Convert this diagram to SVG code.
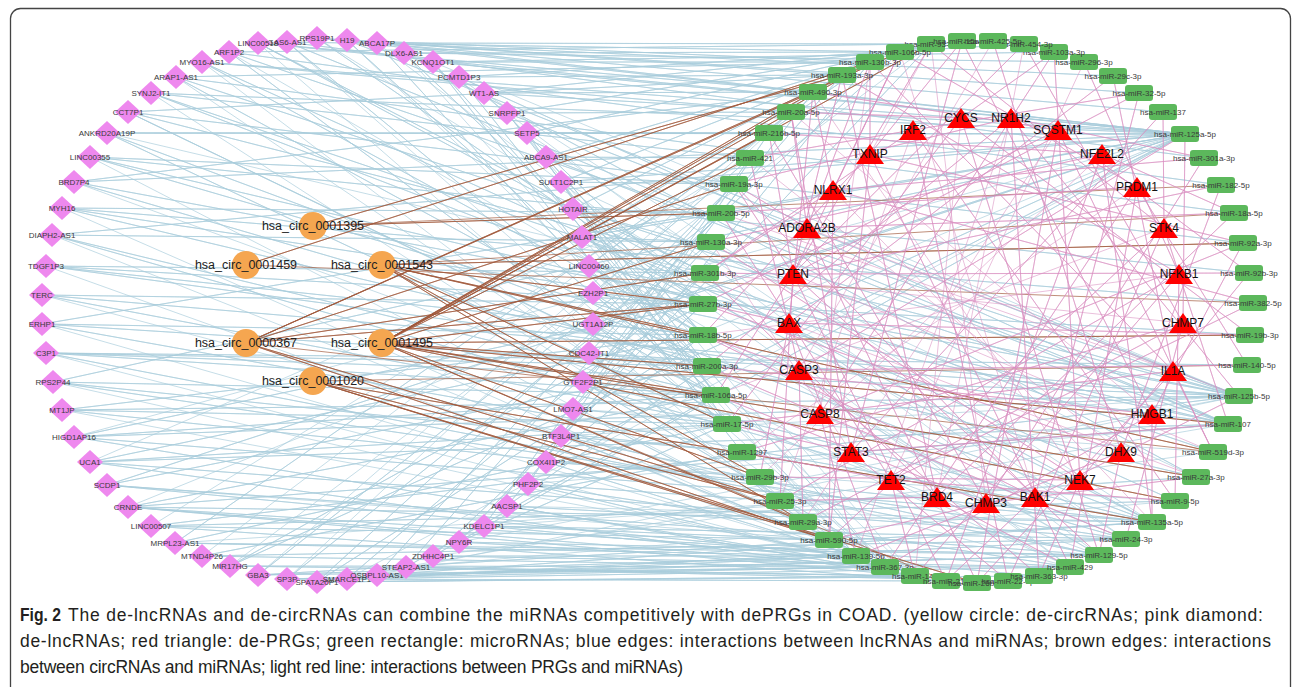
<svg xmlns="http://www.w3.org/2000/svg" xmlns:xlink="http://www.w3.org/1999/xlink" width="1293" height="687" viewBox="0 0 1293 687">
<style>
.blue path{fill:none;stroke:#a9ccdb;stroke-width:0.8;stroke-opacity:0.85;stroke-linejoin:round}
.brown path{fill:none;stroke:#a0583a;stroke-width:0.75;stroke-opacity:0.9;stroke-linejoin:round}
.pink path{fill:none;stroke:#d98ec0;stroke-width:0.7;stroke-opacity:0.8;stroke-linejoin:round}
.lnc use{fill:#ee88ee}
.mir use{fill:#5cb85c}
.circ circle{fill:#f5a650}
.prg use{fill:#ff0000}
.lnc text,.mir text{font-family:'Liberation Sans',Arial,sans-serif;font-size:8px;fill:#3a3a3a;text-anchor:middle}
.circ text{font-family:'Liberation Sans',Arial,sans-serif;font-size:12.5px;fill:#222;text-anchor:middle}
.prg text{font-family:'Liberation Sans',Arial,sans-serif;font-size:12px;fill:#111;text-anchor:middle}
.cap{font-family:'Liberation Sans',Arial,sans-serif;font-size:17.5px;fill:#231f20}
</style>
<defs>
<path id="dia" d="M0 -12L13 0 0 12 -13 0Z"/>
<rect id="rect" x="-14" y="-8" width="28" height="16" rx="3"/>
<path id="tri" d="M0 -10L14 10H-14Z"/>
</defs>
<rect x="10.5" y="8.5" width="1280" height="700" rx="10" fill="#fff" stroke="#444" stroke-width="1.3"/>
<g id="connectors">
<g class="blue">
<path d="M74 437L716 395 74 437 885 567 74 437 1152 522 74 437 1239 396 74 437 703 304 74 437 1185 134"/>
<path d="M90 462L727 424 90 462 915 576 90 462 1126 539 90 462 1228 424 90 462 703 335 90 462 734 184"/>
<path d="M107 485L856 556 107 485 1099 555 107 485 707 366 107 485 1185 134 107 485 829 540"/>
<path d="M128 507L885 567 128 507 915 576 128 507 1070 567 128 507 1152 522 128 507 1228 424 128 507 716 395 128 507 705 273"/>
<path d="M151 526L829 540 151 526 946 581 151 526 1175 501 151 526 1239 396 151 526 750 158"/>
<path d="M175 543L856 556 175 543 1099 555 175 543 727 424 175 543 870 62 175 543 1196 477"/>
<path d="M202 556L885 567 202 556 1126 539 202 556 742 452 202 556 842 75"/>
<path d="M230 566L915 576 230 566 1070 567 230 566 703 304 230 566 1185 134 230 566 931 44"/>
<path d="M258 575L856 556 258 575 885 567 258 575 1152 522 258 575 721 213 258 575 813 92"/>
<path d="M287 579L885 567 287 579 946 581 287 579 1099 555 287 579 711 242 287 579 791 112"/>
<path d="M317 582L915 576 317 582 1039 576 317 582 703 335 317 582 900 52 317 582 1228 424"/>
<path d="M347 579L856 556 347 579 1070 567 347 579 1126 539 347 579 705 273 347 579 1185 134"/>
<path d="M377 575L885 567 377 575 1099 555 377 575 1152 522 377 575 734 184 377 575 1239 396"/>
<path d="M406 567L915 576 406 567 1008 581 406 567 716 395 406 567 842 75 406 567 1175 501"/>
<path d="M433 556L856 556 433 556 1070 567 433 556 703 304 433 556 1185 134 433 556 1213 452"/>
<path d="M459 542L885 567 459 542 1099 555 459 542 727 424 459 542 931 44 459 542 1239 396"/>
<path d="M484 526L829 540 484 526 1039 576 484 526 1126 539 484 526 750 158 484 526 1196 477"/>
<path d="M507 506L803 522 507 506 915 576 507 506 707 366 507 506 870 62 507 506 1152 522"/>
<path d="M528 484L780 501 528 484 885 567 528 484 1070 567 528 484 769 133 528 484 1228 424"/>
<path d="M546 462L760 477 546 462 856 556 546 462 703 335 546 462 1185 134 546 462 1175 501"/>
<path d="M561 436L742 452 561 436 829 540 561 436 1099 555 561 436 703 304 561 436 1239 396"/>
<path d="M573 409L727 424 573 409 885 567 573 409 705 273 573 409 813 92 573 409 1213 452"/>
<path d="M583 382L716 395 583 382 915 576 583 382 1152 522 583 382 711 242 583 382 1185 134"/>
<path d="M589 353L707 366 589 353 803 522 589 353 721 213 589 353 1239 396 589 353 1070 567"/>
<path d="M593 324L703 335 593 324 716 395 593 324 734 184 593 324 1185 134 593 324 1126 539"/>
<path d="M593 293L703 304 593 293 707 366 593 293 750 158 593 293 1228 424 593 293 885 567"/>
<path d="M589 266L705 273 589 266 703 335 589 266 791 112 589 266 1239 396 589 266 1099 555"/>
<path d="M582 237L711 242 582 237 703 304 582 237 813 92 582 237 1185 134 582 237 1152 522 582 237 856 556"/>
<path d="M573 209L721 213 573 209 705 273 573 209 842 75 573 209 1239 396 573 209 1070 567"/>
<path d="M561 182L734 184 561 182 716 395 561 182 870 62 561 182 1185 134 561 182 1196 477"/>
<path d="M546 157L750 158 546 157 703 335 546 157 900 52 546 157 1228 424 546 157 915 576"/>
<path d="M527 133L769 133 527 133 727 424 527 133 931 44 527 133 1185 134 527 133 1126 539"/>
<path d="M507 113L791 112 507 113 707 366 507 113 962 41 507 113 1239 396 507 113 885 567"/>
<path d="M484 93L813 92 484 93 703 304 484 93 993 41 484 93 1185 134 484 93 1152 522"/>
<path d="M459 77L842 75 459 77 716 395 459 77 1024 44 459 77 1228 424 459 77 1099 555"/>
<path d="M433 62L870 62 433 62 742 452 433 62 1054 52 433 62 1185 134 433 62 885 567 433 62 1239 396"/>
<path d="M404 53L900 52 404 53 703 335 404 53 1084 62 404 53 1196 477 404 53 856 556"/>
<path d="M377 43L931 44 377 43 727 424 377 43 1113 76 377 43 1185 134 377 43 1070 567"/>
<path d="M347 40L870 62 347 40 707 366 347 40 1139 93 347 40 1239 396 347 40 915 576"/>
<path d="M317 38L842 75 317 38 703 304 317 38 1163 112 317 38 1185 134 317 38 1126 539"/>
<path d="M287 42L900 52 287 42 716 395 287 42 1204 158 287 42 1228 424 287 42 885 567"/>
<path d="M258 43L813 92 258 43 705 273 258 43 1185 134 258 43 1152 522 258 43 829 540"/>
<path d="M229 52L931 44 229 52 727 424 229 52 1221 185 229 52 1239 396 229 52 1099 555"/>
<path d="M202 62L791 112 202 62 703 335 202 62 1185 134 202 62 1175 501 202 62 856 556"/>
<path d="M176 77L870 62 176 77 707 366 176 77 1234 213 176 77 1228 424 176 77 915 576"/>
<path d="M151 93L750 158 151 93 703 304 151 93 1185 134 151 93 1213 452 151 93 885 567"/>
<path d="M128 112L842 75 128 112 716 395 128 112 1243 243 128 112 1239 396 128 112 1070 567"/>
<path d="M107 133L769 133 107 133 727 424 107 133 1185 134 107 133 1152 522 107 133 705 273"/>
<path d="M90 157L734 184 90 157 703 335 90 157 1249 273 90 157 1228 424 90 157 885 567"/>
<path d="M74 182L813 92 74 182 707 366 74 182 1185 134 74 182 1239 396 74 182 1099 555"/>
<path d="M62 208L721 213 62 208 703 304 62 208 1253 303 62 208 1196 477 62 208 856 556"/>
<path d="M52 235L711 242 52 235 716 395 52 235 1185 134 52 235 1126 539 52 235 915 576"/>
<path d="M46 266L705 273 46 266 703 335 46 266 1250 335 46 266 1228 424 46 266 885 567"/>
<path d="M42 295L703 304 42 295 727 424 42 295 1239 396 42 295 1070 567"/>
<path d="M42 324L703 335 42 324 707 366 42 324 1185 134 42 324 1152 522 42 324 856 556"/>
<path d="M46 353L707 366 46 353 716 395 46 353 1247 365 46 353 1239 396 46 353 1099 555 46 353 915 576"/>
<path d="M53 382L716 395 53 382 742 452 53 382 1185 134 53 382 1126 539 53 382 885 567"/>
<path d="M62 410L727 424 62 410 703 335 62 410 1239 396 62 410 1152 522 62 410 856 556"/>
</g>
<g class="brown">
<path d="M313 226L721 213 313 226 842 75 313 226 1221 185"/>
<path d="M246 265L870 62 246 265 1253 303"/>
<path d="M382 265L703 335 382 265 727 424 382 265 803 522 382 265 1213 452 382 265 1243 243 382 265 703 304 382 265 760 477 382 265 1234 213"/>
<path d="M246 343L900 52 246 343 813 92 246 343 734 184 246 343 705 273 246 343 703 304 246 343 780 501 246 343 829 540 246 343 1213 452"/>
<path d="M382 343L931 44 382 343 870 62 382 343 842 75 382 343 791 112 382 343 769 133 382 343 750 158 382 343 711 242 382 343 703 304 382 343 707 366 382 343 716 395 382 343 760 477 382 343 803 522 382 343 1175 501 382 343 1196 477 382 343 1228 424 382 343 1250 335 382 343 946 581"/>
<path d="M313 381L780 501 313 381 829 540 313 381 977 583 313 381 1152 522 313 381 1247 365"/>
</g>
<g class="pink">
<path d="M833 190L900 52 833 190 813 92 833 190 705 273 833 190 829 540 833 190 1253 303 833 190 1204 158 833 190 1152 522"/>
<path d="M807 228L870 62 807 228 791 112 807 228 734 184 807 228 977 583 807 228 1234 213 807 228 1239 396"/>
<path d="M793 274L931 44 793 274 900 52 793 274 842 75 793 274 769 133 793 274 734 184 793 274 705 273 793 274 716 395 793 274 780 501 793 274 946 581 793 274 1099 555 793 274 1249 273 793 274 1221 185 793 274 1139 93 793 274 1024 44 793 274 1213 452"/>
<path d="M789 323L813 92 789 323 703 304 789 323 760 477 789 323 885 567 789 323 1250 335 789 323 1113 76 789 323 1196 477"/>
<path d="M799 370L750 158 799 370 703 335 799 370 803 522 799 370 1039 576 799 370 1247 365 799 370 1185 134 799 370 993 41"/>
<path d="M820 414L707 366 820 414 856 556 820 414 1126 539 820 414 1243 243 820 414 1054 52 820 414 870 62"/>
<path d="M851 452L791 112 851 452 727 424 851 452 1008 581 851 452 1228 424 851 452 1163 112 851 452 962 41 851 452 711 242"/>
<path d="M891 480L721 213 891 480 742 452 891 480 915 576 891 480 1175 501 891 480 1253 303 891 480 1084 62"/>
<path d="M937 497L842 75 937 497 705 273 937 497 780 501 937 497 1070 567 937 497 1234 213 937 497 1024 44"/>
<path d="M986 503L769 133 986 503 716 395 986 503 829 540 986 503 1196 477 986 503 1204 158 986 503 931 44"/>
<path d="M1035 497L734 184 1035 497 703 335 1035 497 946 581 1035 497 1239 396 1035 497 1139 93 1035 497 900 52"/>
<path d="M1080 480L711 242 1080 480 760 477 1080 480 1039 576 1080 480 1249 273 1080 480 1054 52 1080 480 813 92"/>
<path d="M1121 452L703 304 1121 452 856 556 1121 452 1099 555 1121 452 1221 185 1121 452 993 41 1121 452 750 158"/>
<path d="M1152 414L707 366 1152 414 885 567 1152 414 1152 522 1152 414 1243 243 1152 414 962 41 1152 414 791 112"/>
<path d="M1173 371L727 424 1173 371 977 583 1173 371 1213 452 1173 371 1113 76 1173 371 870 62 1173 371 721 213"/>
<path d="M1183 323L742 452 1183 323 803 522 1183 323 1126 539 1183 323 1185 134 1183 323 1024 44 1183 323 705 273"/>
<path d="M1179 274L780 501 1179 274 915 576 1179 274 1175 501 1179 274 1084 62 1179 274 842 75 1179 274 703 335"/>
<path d="M1164 228L829 540 1164 228 1008 581 1164 228 1228 424 1164 228 1163 112 1164 228 931 44 1164 228 716 395"/>
<path d="M1137 187L721 213 1137 187 885 567 1137 187 1070 567 1137 187 1247 365 1137 187 900 52 1137 187 742 452"/>
<path d="M1102 154L711 242 1102 154 946 581 1102 154 1152 522 1102 154 1234 213 1102 154 769 133 1102 154 760 477"/>
<path d="M1058 130L703 304 1058 130 977 583 1058 130 1213 452 1058 130 1249 273 1058 130 813 92 1058 130 803 522"/>
<path d="M1011 118L707 366 1011 118 1039 576 1011 118 1239 396 1011 118 1204 158 1011 118 734 184 1011 118 856 556"/>
<path d="M961 118L727 424 961 118 1099 555 961 118 1250 335 961 118 1054 52 961 118 791 112 961 118 915 576"/>
<path d="M913 130L705 273 913 130 1008 581 913 130 1175 501 913 130 1139 93 913 130 750 158 913 130 780 501"/>
<path d="M870 154L870 62 870 154 703 335 870 154 1070 567 870 154 1243 243 870 154 962 41 870 154 829 540 870 154 931 44"/>
</g>
</g>
<g id="lncRNAs" class="lnc">
<g id="HIGD1AP16"><use href="#dia" x="74" y="437"/><text x="74" y="440">HIGD1AP16</text></g>
<g id="UCA1"><use href="#dia" x="90" y="462"/><text x="90" y="465">UCA1</text></g>
<g id="SCDP1"><use href="#dia" x="107" y="485"/><text x="107" y="488">SCDP1</text></g>
<g id="CRNDE"><use href="#dia" x="128" y="507"/><text x="128" y="510">CRNDE</text></g>
<g id="LINC00507"><use href="#dia" x="151" y="526"/><text x="151" y="529">LINC00507</text></g>
<g id="MRPL23-AS1"><use href="#dia" x="175" y="543"/><text x="175" y="546">MRPL23-AS1</text></g>
<g id="MTND4P26"><use href="#dia" x="202" y="556"/><text x="202" y="559">MTND4P26</text></g>
<g id="MIR17HG"><use href="#dia" x="230" y="566"/><text x="230" y="569">MIR17HG</text></g>
<g id="GBA3"><use href="#dia" x="258" y="575"/><text x="258" y="578">GBA3</text></g>
<g id="SP3P"><use href="#dia" x="287" y="579"/><text x="287" y="582">SP3P</text></g>
<g id="SPATA20P1"><use href="#dia" x="317" y="582"/><text x="317" y="585">SPATA20P1</text></g>
<g id="SMARCE1P1"><use href="#dia" x="347" y="579"/><text x="347" y="582">SMARCE1P1</text></g>
<g id="OSBPL10-AS1"><use href="#dia" x="377" y="575"/><text x="377" y="578">OSBPL10-AS1</text></g>
<g id="STEAP2-AS1"><use href="#dia" x="406" y="567"/><text x="406" y="570">STEAP2-AS1</text></g>
<g id="ZDHHC4P1"><use href="#dia" x="433" y="556"/><text x="433" y="559">ZDHHC4P1</text></g>
<g id="NPY6R"><use href="#dia" x="459" y="542"/><text x="459" y="545">NPY6R</text></g>
<g id="KDELC1P1"><use href="#dia" x="484" y="526"/><text x="484" y="529">KDELC1P1</text></g>
<g id="AACSP1"><use href="#dia" x="507" y="506"/><text x="507" y="509">AACSP1</text></g>
<g id="PHF2P2"><use href="#dia" x="528" y="484"/><text x="528" y="487">PHF2P2</text></g>
<g id="COX4I1P2"><use href="#dia" x="546" y="462"/><text x="546" y="465">COX4I1P2</text></g>
<g id="BTF3L4P1"><use href="#dia" x="561" y="436"/><text x="561" y="439">BTF3L4P1</text></g>
<g id="LMO7-AS1"><use href="#dia" x="573" y="409"/><text x="573" y="412">LMO7-AS1</text></g>
<g id="GTF2F2P1"><use href="#dia" x="583" y="382"/><text x="583" y="385">GTF2F2P1</text></g>
<g id="CDC42-IT1"><use href="#dia" x="589" y="353"/><text x="589" y="356">CDC42-IT1</text></g>
<g id="UGT1A12P"><use href="#dia" x="593" y="324"/><text x="593" y="327">UGT1A12P</text></g>
<g id="EZH2P1"><use href="#dia" x="593" y="293"/><text x="593" y="296">EZH2P1</text></g>
<g id="LINC00460"><use href="#dia" x="589" y="266"/><text x="589" y="269">LINC00460</text></g>
<g id="MALAT1"><use href="#dia" x="582" y="237"/><text x="582" y="240">MALAT1</text></g>
<g id="HOTAIR"><use href="#dia" x="573" y="209"/><text x="573" y="212">HOTAIR</text></g>
<g id="SULT1C2P1"><use href="#dia" x="561" y="182"/><text x="561" y="185">SULT1C2P1</text></g>
<g id="ABCA9-AS1"><use href="#dia" x="546" y="157"/><text x="546" y="160">ABCA9-AS1</text></g>
<g id="SETP5"><use href="#dia" x="527" y="133"/><text x="527" y="136">SETP5</text></g>
<g id="SNRPFP1"><use href="#dia" x="507" y="113"/><text x="507" y="116">SNRPFP1</text></g>
<g id="WT1-AS"><use href="#dia" x="484" y="93"/><text x="484" y="96">WT1-AS</text></g>
<g id="PCMTD1P3"><use href="#dia" x="459" y="77"/><text x="459" y="80">PCMTD1P3</text></g>
<g id="KCNQ1OT1"><use href="#dia" x="433" y="62"/><text x="433" y="65">KCNQ1OT1</text></g>
<g id="DLX6-AS1"><use href="#dia" x="404" y="53"/><text x="404" y="56">DLX6-AS1</text></g>
<g id="ABCA17P"><use href="#dia" x="377" y="43"/><text x="377" y="46">ABCA17P</text></g>
<g id="H19"><use href="#dia" x="347" y="40"/><text x="347" y="43">H19</text></g>
<g id="GAS6-AS1"><use href="#dia" x="287" y="42"/><text x="287" y="45">GAS6-AS1</text></g>
<g id="RPS19P1"><use href="#dia" x="317" y="38"/><text x="317" y="41">RPS19P1</text></g>
<g id="LINC00518"><use href="#dia" x="258" y="43"/><text x="258" y="46">LINC00518</text></g>
<g id="ARF1P2"><use href="#dia" x="229" y="52"/><text x="229" y="55">ARF1P2</text></g>
<g id="MYO16-AS1"><use href="#dia" x="202" y="62"/><text x="202" y="65">MYO16-AS1</text></g>
<g id="ARAP1-AS1"><use href="#dia" x="176" y="77"/><text x="176" y="80">ARAP1-AS1</text></g>
<g id="SYNJ2-IT1"><use href="#dia" x="151" y="93"/><text x="151" y="96">SYNJ2-IT1</text></g>
<g id="CCT7P1"><use href="#dia" x="128" y="112"/><text x="128" y="115">CCT7P1</text></g>
<g id="ANKRD20A19P"><use href="#dia" x="107" y="133"/><text x="107" y="136">ANKRD20A19P</text></g>
<g id="LINC00355"><use href="#dia" x="90" y="157"/><text x="90" y="160">LINC00355</text></g>
<g id="BRD7P4"><use href="#dia" x="74" y="182"/><text x="74" y="185">BRD7P4</text></g>
<g id="MYH16"><use href="#dia" x="62" y="208"/><text x="62" y="211">MYH16</text></g>
<g id="DIAPH2-AS1"><use href="#dia" x="52" y="235"/><text x="52" y="238">DIAPH2-AS1</text></g>
<g id="TDGF1P3"><use href="#dia" x="46" y="266"/><text x="46" y="269">TDGF1P3</text></g>
<g id="TERC"><use href="#dia" x="42" y="295"/><text x="42" y="298">TERC</text></g>
<g id="ERHP1"><use href="#dia" x="42" y="324"/><text x="42" y="327">ERHP1</text></g>
<g id="C3P1"><use href="#dia" x="46" y="353"/><text x="46" y="356">C3P1</text></g>
<g id="RPS2P44"><use href="#dia" x="53" y="382"/><text x="53" y="385">RPS2P44</text></g>
<g id="MT1JP"><use href="#dia" x="62" y="410"/><text x="62" y="413">MT1JP</text></g>
</g>
<g id="miRNAs" class="mir">
<g id="miR-93-5p"><use href="#rect" x="931" y="44"/><text x="931" y="47">hsa-miR-93-5p</text></g>
<g id="miR-106b-5p"><use href="#rect" x="900" y="52"/><text x="900" y="55">hsa-miR-106b-5p</text></g>
<g id="miR-130b-3p"><use href="#rect" x="870" y="62"/><text x="870" y="65">hsa-miR-130b-3p</text></g>
<g id="miR-193a-3p"><use href="#rect" x="842" y="75"/><text x="842" y="78">hsa-miR-193a-3p</text></g>
<g id="miR-490-3p"><use href="#rect" x="813" y="92"/><text x="813" y="95">hsa-miR-490-3p</text></g>
<g id="miR-20a-5p"><use href="#rect" x="791" y="112"/><text x="791" y="115">hsa-miR-20a-5p</text></g>
<g id="miR-216b-5p"><use href="#rect" x="769" y="133"/><text x="769" y="136">hsa-miR-216b-5p</text></g>
<g id="miR-421"><use href="#rect" x="750" y="158"/><text x="750" y="161">hsa-miR-421</text></g>
<g id="miR-19a-3p"><use href="#rect" x="734" y="184"/><text x="734" y="187">hsa-miR-19a-3p</text></g>
<g id="miR-20b-5p"><use href="#rect" x="721" y="213"/><text x="721" y="216">hsa-miR-20b-5p</text></g>
<g id="miR-130a-3p"><use href="#rect" x="711" y="242"/><text x="711" y="245">hsa-miR-130a-3p</text></g>
<g id="miR-301b-3p"><use href="#rect" x="705" y="273"/><text x="705" y="276">hsa-miR-301b-3p</text></g>
<g id="miR-27b-3p"><use href="#rect" x="703" y="304"/><text x="703" y="307">hsa-miR-27b-3p</text></g>
<g id="miR-18b-5p"><use href="#rect" x="703" y="335"/><text x="703" y="338">hsa-miR-18b-5p</text></g>
<g id="miR-200a-3p"><use href="#rect" x="707" y="366"/><text x="707" y="369">hsa-miR-200a-3p</text></g>
<g id="miR-106a-5p"><use href="#rect" x="716" y="395"/><text x="716" y="398">hsa-miR-106a-5p</text></g>
<g id="miR-17-5p"><use href="#rect" x="727" y="424"/><text x="727" y="427">hsa-miR-17-5p</text></g>
<g id="miR-1297"><use href="#rect" x="742" y="452"/><text x="742" y="455">hsa-miR-1297</text></g>
<g id="miR-29b-3p"><use href="#rect" x="760" y="477"/><text x="760" y="480">hsa-miR-29b-3p</text></g>
<g id="miR-25-3p"><use href="#rect" x="780" y="501"/><text x="780" y="504">hsa-miR-25-3p</text></g>
<g id="miR-29a-3p"><use href="#rect" x="803" y="522"/><text x="803" y="525">hsa-miR-29a-3p</text></g>
<g id="miR-590-5p"><use href="#rect" x="829" y="540"/><text x="829" y="543">hsa-miR-590-5p</text></g>
<g id="miR-139-5p"><use href="#rect" x="856" y="556"/><text x="856" y="559">hsa-miR-139-5p</text></g>
<g id="miR-367-3p"><use href="#rect" x="885" y="567"/><text x="885" y="570">hsa-miR-367-3p</text></g>
<g id="miR-141"><use href="#rect" x="915" y="576"/><text x="915" y="579">hsa-miR-141</text></g>
<g id="miR-217"><use href="#rect" x="946" y="581"/><text x="946" y="584">hsa-miR-217</text></g>
<g id="miR-26b-5p"><use href="#rect" x="977" y="583"/><text x="977" y="586">hsa-miR-26b-5p</text></g>
<g id="miR-22-3p"><use href="#rect" x="1008" y="581"/><text x="1008" y="584">hsa-miR-22-3p</text></g>
<g id="miR-363-3p"><use href="#rect" x="1039" y="576"/><text x="1039" y="579">hsa-miR-363-3p</text></g>
<g id="miR-429"><use href="#rect" x="1070" y="567"/><text x="1070" y="570">hsa-miR-429</text></g>
<g id="miR-129-5p"><use href="#rect" x="1099" y="555"/><text x="1099" y="558">hsa-miR-129-5p</text></g>
<g id="miR-24-3p"><use href="#rect" x="1126" y="539"/><text x="1126" y="542">hsa-miR-24-3p</text></g>
<g id="miR-135a-5p"><use href="#rect" x="1152" y="522"/><text x="1152" y="525">hsa-miR-135a-5p</text></g>
<g id="miR-9-5p"><use href="#rect" x="1175" y="501"/><text x="1175" y="504">hsa-miR-9-5p</text></g>
<g id="miR-27a-3p"><use href="#rect" x="1196" y="477"/><text x="1196" y="480">hsa-miR-27a-3p</text></g>
<g id="miR-519d-3p"><use href="#rect" x="1213" y="452"/><text x="1213" y="455">hsa-miR-519d-3p</text></g>
<g id="miR-107"><use href="#rect" x="1228" y="424"/><text x="1228" y="427">hsa-miR-107</text></g>
<g id="miR-125b-5p"><use href="#rect" x="1239" y="396"/><text x="1239" y="399">hsa-miR-125b-5p</text></g>
<g id="miR-140-5p"><use href="#rect" x="1247" y="365"/><text x="1247" y="368">hsa-miR-140-5p</text></g>
<g id="miR-19b-3p"><use href="#rect" x="1250" y="335"/><text x="1250" y="338">hsa-miR-19b-3p</text></g>
<g id="miR-382-5p"><use href="#rect" x="1253" y="303"/><text x="1253" y="306">hsa-miR-382-5p</text></g>
<g id="miR-92b-3p"><use href="#rect" x="1249" y="273"/><text x="1249" y="276">hsa-miR-92b-3p</text></g>
<g id="miR-92a-3p"><use href="#rect" x="1243" y="243"/><text x="1243" y="246">hsa-miR-92a-3p</text></g>
<g id="miR-18a-5p"><use href="#rect" x="1234" y="213"/><text x="1234" y="216">hsa-miR-18a-5p</text></g>
<g id="miR-182-5p"><use href="#rect" x="1221" y="185"/><text x="1221" y="188">hsa-miR-182-5p</text></g>
<g id="miR-301a-3p"><use href="#rect" x="1204" y="158"/><text x="1204" y="161">hsa-miR-301a-3p</text></g>
<g id="miR-125a-5p"><use href="#rect" x="1185" y="134"/><text x="1185" y="137">hsa-miR-125a-5p</text></g>
<g id="miR-137"><use href="#rect" x="1163" y="112"/><text x="1163" y="115">hsa-miR-137</text></g>
<g id="miR-32-5p"><use href="#rect" x="1139" y="93"/><text x="1139" y="96">hsa-miR-32-5p</text></g>
<g id="miR-29c-3p"><use href="#rect" x="1113" y="76"/><text x="1113" y="79">hsa-miR-29c-3p</text></g>
<g id="miR-296-3p"><use href="#rect" x="1084" y="62"/><text x="1084" y="65">hsa-miR-296-3p</text></g>
<g id="miR-103a-3p"><use href="#rect" x="1054" y="52"/><text x="1054" y="55">hsa-miR-103a-3p</text></g>
<g id="miR-454-3p"><use href="#rect" x="1024" y="44"/><text x="1024" y="47">hsa-miR-454-3p</text></g>
<g id="miR-15a-5p"><use href="#rect" x="962" y="41"/><text x="962" y="44">hsa-miR-15a-5p</text></g>
<g id="miR-425-5p"><use href="#rect" x="993" y="41"/><text x="993" y="44">hsa-miR-425-5p</text></g>
</g>
<g id="circRNAs" class="circ">
<g id="hsa_circ_0001395"><circle cx="313" cy="226" r="14"/><text x="313" y="230">hsa_circ_0001395</text></g>
<g id="hsa_circ_0001459"><circle cx="246" cy="265" r="14"/><text x="246" y="269">hsa_circ_0001459</text></g>
<g id="hsa_circ_0001543"><circle cx="382" cy="265" r="14"/><text x="382" y="269">hsa_circ_0001543</text></g>
<g id="hsa_circ_0000367"><circle cx="246" cy="343" r="14"/><text x="246" y="347">hsa_circ_0000367</text></g>
<g id="hsa_circ_0001495"><circle cx="382" cy="343" r="14"/><text x="382" y="347">hsa_circ_0001495</text></g>
<g id="hsa_circ_0001020"><circle cx="313" cy="381" r="14"/><text x="313" y="385">hsa_circ_0001020</text></g>
</g>
<g id="PRGs" class="prg">
<g id="NLRX1"><use href="#tri" x="833" y="190"/><text x="833" y="194">NLRX1</text></g>
<g id="ADORA2B"><use href="#tri" x="807" y="228"/><text x="807" y="232">ADORA2B</text></g>
<g id="PTEN"><use href="#tri" x="793" y="274"/><text x="793" y="278">PTEN</text></g>
<g id="BAX"><use href="#tri" x="789" y="323"/><text x="789" y="327">BAX</text></g>
<g id="CASP3"><use href="#tri" x="799" y="370"/><text x="799" y="374">CASP3</text></g>
<g id="CASP8"><use href="#tri" x="820" y="414"/><text x="820" y="418">CASP8</text></g>
<g id="STAT3"><use href="#tri" x="851" y="452"/><text x="851" y="456">STAT3</text></g>
<g id="TET2"><use href="#tri" x="891" y="480"/><text x="891" y="484">TET2</text></g>
<g id="BRD4"><use href="#tri" x="937" y="497"/><text x="937" y="501">BRD4</text></g>
<g id="CHMP3"><use href="#tri" x="986" y="503"/><text x="986" y="507">CHMP3</text></g>
<g id="BAK1"><use href="#tri" x="1035" y="497"/><text x="1035" y="501">BAK1</text></g>
<g id="NEK7"><use href="#tri" x="1080" y="480"/><text x="1080" y="484">NEK7</text></g>
<g id="DHX9"><use href="#tri" x="1121" y="452"/><text x="1121" y="456">DHX9</text></g>
<g id="HMGB1"><use href="#tri" x="1152" y="414"/><text x="1152" y="418">HMGB1</text></g>
<g id="IL1A"><use href="#tri" x="1173" y="371"/><text x="1173" y="375">IL1A</text></g>
<g id="CHMP7"><use href="#tri" x="1183" y="323"/><text x="1183" y="327">CHMP7</text></g>
<g id="NFKB1"><use href="#tri" x="1179" y="274"/><text x="1179" y="278">NFKB1</text></g>
<g id="STK4"><use href="#tri" x="1164" y="228"/><text x="1164" y="232">STK4</text></g>
<g id="PRDM1"><use href="#tri" x="1137" y="187"/><text x="1137" y="191">PRDM1</text></g>
<g id="NFE2L2"><use href="#tri" x="1102" y="154"/><text x="1102" y="158">NFE2L2</text></g>
<g id="SQSTM1"><use href="#tri" x="1058" y="130"/><text x="1058" y="134">SQSTM1</text></g>
<g id="NR1H2"><use href="#tri" x="1011" y="118"/><text x="1011" y="122">NR1H2</text></g>
<g id="CYCS"><use href="#tri" x="961" y="118"/><text x="961" y="122">CYCS</text></g>
<g id="IRF2"><use href="#tri" x="913" y="130"/><text x="913" y="134">IRF2</text></g>
<g id="TXNIP"><use href="#tri" x="870" y="154"/><text x="870" y="158">TXNIP</text></g>
</g>
<g id="caption" class="cap">
<text x="20" y="621" font-weight="bold" textLength="41" lengthAdjust="spacingAndGlyphs">Fig. 2</text>
<text x="68" y="621" textLength="1195" lengthAdjust="spacing">The de-lncRNAs and de-circRNAs can combine the miRNAs competitively with dePRGs in COAD. (yellow circle: de-circRNAs; pink diamond:</text>
<text x="20" y="647" textLength="1251" lengthAdjust="spacing">de-lncRNAs; red triangle: de-PRGs; green rectangle: microRNAs; blue edges: interactions between lncRNAs and miRNAs; brown edges: interactions</text>
<text x="20" y="673" textLength="663" lengthAdjust="spacing">between circRNAs and miRNAs; light red line: interactions between PRGs and miRNAs)</text>
</g>
</svg>
